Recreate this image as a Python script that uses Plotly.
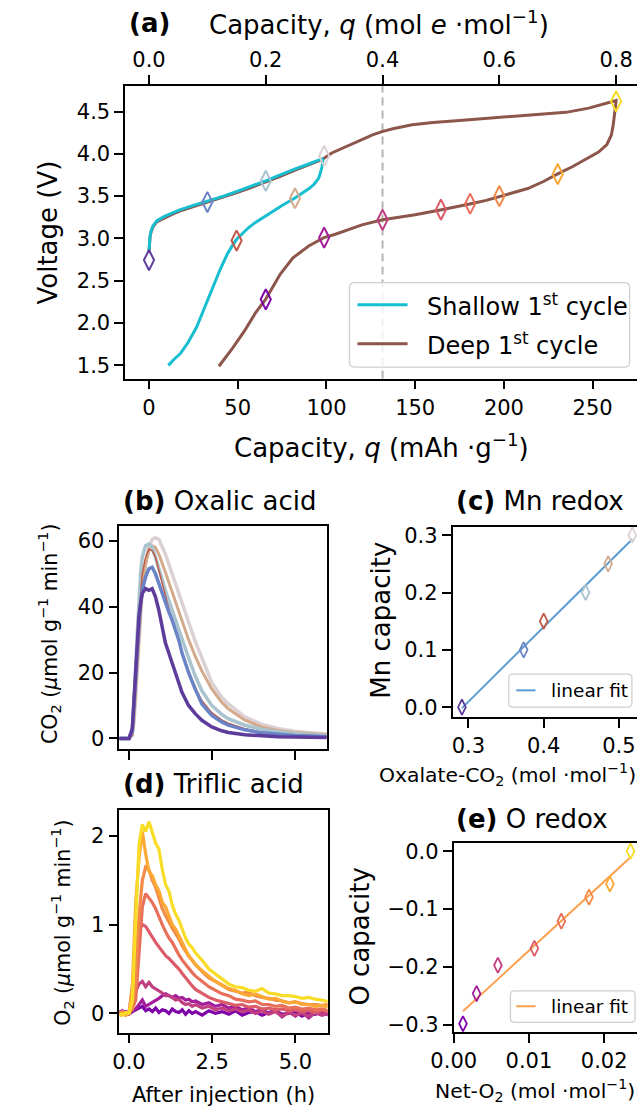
import numpy as np
import plotly.graph_objects as go

FONT = "DejaVu Sans"
W, H = 637, 1114

# ---------------- Panel (a): voltage profiles ----------------
CONV = 329.0  # mAh/g per (mol e / mol)

SH_CH_Q = [0, 0.1, 0.3, 0.6, 1.2, 2.3, 4.5, 8.7, 13, 17.7, 25, 33.1, 42, 50, 58, 65.7, 74, 82, 90, 97.4]
SH_CH_V = [2.85, 2.92, 2.98, 3.03, 3.09, 3.15, 3.21, 3.26, 3.30, 3.34, 3.39, 3.44, 3.50, 3.56, 3.62, 3.68, 3.75, 3.82, 3.88, 3.94]
SH_DIS_Q = [98, 97.5, 96.5, 95.6, 93, 90.2, 86, 82, 75, 66.6, 60, 55.7, 52, 49.4, 46.5, 44, 40, 35.8, 31, 26.8, 22, 17.7, 14, 10.9]
SH_DIS_V = [3.93, 3.85, 3.77, 3.71, 3.64, 3.59, 3.53, 3.475, 3.39, 3.28, 3.19, 3.12, 3.05, 2.99, 2.90, 2.81, 2.63, 2.42, 2.18, 1.95, 1.77, 1.64, 1.57, 1.50]

DP_CH_Q = [0, 0.1, 0.3, 0.6, 1.2, 2.3, 4.5, 8.7, 13, 17.7, 25, 33.1, 42, 50, 58, 65.7, 74, 82, 90, 97.4,
           103, 108.2, 112, 117.3, 122, 126.3, 131.8, 137.4, 148.3, 160, 175, 184.4, 200, 220.7, 235, 247.8, 256, 263.2]
DP_CH_V = [2.84, 2.91, 2.97, 3.02, 3.08, 3.14, 3.20, 3.245, 3.285, 3.325, 3.375, 3.425, 3.485, 3.545, 3.605, 3.665, 3.735, 3.805, 3.87, 3.93,
           4.01, 4.06, 4.095, 4.148, 4.19, 4.226, 4.265, 4.296, 4.343, 4.37, 4.395, 4.41, 4.43, 4.46, 4.49, 4.54, 4.585, 4.63]
DP_DIS_Q = [263.2, 262.8, 262.3, 261.5, 260.5, 258, 253.3, 246, 238.8, 230, 222, 213.4, 205, 198, 190, 181.4, 173, 164.9,
            150, 131.6, 120, 112, 105, 98.6, 90, 81.1, 74, 65.7, 60, 53.9, 47, 39.4]
DP_DIS_V = [4.62, 4.55, 4.45, 4.33, 4.22, 4.11, 4.02, 3.93, 3.85, 3.76, 3.67, 3.59, 3.54, 3.50, 3.45, 3.41, 3.37, 3.34,
            3.28, 3.22, 3.16, 3.10, 3.05, 3.01, 2.91, 2.77, 2.58, 2.28, 2.12, 1.91, 1.70, 1.49]

# sampling points (capacity in mol e/mol)
SH_PTS_Q = [0.0, 0.1, 0.15, 0.2, 0.25, 0.3]
SH_PTS_V = [2.744, 3.43, 2.975, 3.68, 3.475, 3.975]
SH_COLORS = ["#5d3c9c", "#6a84c6", "#c05a48", "#a9c3cf", "#d3aa8c", "#dcd1d2"]

DP_PTS_Q = [0.2, 0.3, 0.4, 0.5, 0.55, 0.6, 0.7, 0.8]
DP_PTS_V = [2.28, 3.01, 3.22, 3.34, 3.41, 3.50, 3.76, 4.62]
DP_COLORS = ["#7e03a8", "#a31e9a", "#c13f80", "#db5c68", "#e8705a", "#f48a47", "#fca835", "#f8dc25"]

# ---------------- Panel (b): CO2 (oxalic acid) ----------------
T_B = [-0.3, 0.0, 0.1, 0.15, 0.2, 0.25, 0.3, 0.35, 0.4, 0.5, 0.6, 0.7, 0.8, 0.9, 1.0, 1.1, 1.2, 1.3, 1.4, 1.5,
       1.6, 1.8, 2.0, 2.2, 2.5, 2.8, 3.0, 3.5, 4.0, 4.5, 5.0, 5.5, 6.0]
CO2_00 = [0, 0, 3, 12, 22, 31, 37, 41, 44, 45.5, 45, 45.5, 43, 39, 34, 29, 26, 23, 20, 17,
          14, 10, 7.5, 5.5, 3.5, 2.3, 1.8, 1.1, 0.7, 0.5, 0.4, 0.3, 0.3]
CO2_10 = [0, 0, 2, 9, 18, 27, 35, 41, 45, 49, 51.5, 52, 50, 47, 44, 41, 38.5, 36, 33, 30,
          26, 20, 15, 10.5, 7, 5, 4.0, 2.6, 1.7, 1.2, 0.9, 0.7, 0.5]
CO2_15 = [0, 0, 1, 7, 16, 26, 36, 44, 50, 55, 57.5, 57, 55, 51, 47, 43, 39.5, 36, 32.5, 29,
          26, 20.5, 15.5, 11.5, 7.8, 5.6, 4.6, 2.9, 1.9, 1.3, 1.0, 0.8, 0.6]
CO2_20 = [0, 0, 2, 10, 21, 32, 42, 50, 55, 58.5, 59, 58, 55, 51.5, 48, 45, 42, 39, 36, 33,
          30, 24.5, 19, 14.5, 10, 7.3, 6.0, 4.0, 2.8, 2.0, 1.5, 1.1, 0.8]
CO2_25 = [0, 0, 1, 6, 14, 23, 32, 40, 46, 53, 57, 58.5, 58, 56, 53.5, 50.5, 47.5, 44.5, 41.5, 38.5,
          35.5, 30, 25, 20.5, 15, 11, 9, 5.5, 3.5, 2.4, 1.8, 1.4, 1.1]
CO2_30 = [0, 0, 1, 5, 12, 21, 30, 38, 45, 53, 58, 60.5, 61, 60.5, 58.5, 56, 53, 50, 47, 44,
          41, 35, 29.5, 24.5, 17, 12.5, 10.5, 6.5, 4.3, 3.0, 2.2, 1.7, 1.3]

# ---------------- Panel (c): Mn redox ----------------
OX_CO2 = [0.2914, 0.3734, 0.400, 0.4557, 0.4857, 0.5177]
MN_CAP = [0.0, 0.1, 0.15, 0.2, 0.25, 0.3]

# ---------------- Panel (d): O2 (triflic acid) ----------------
T_D = [-0.3, -0.2, -0.1, 0.0, 0.1, 0.2, 0.3, 0.4, 0.5, 0.6, 0.7, 0.8, 0.9, 1.0, 1.1, 1.2, 1.3, 1.4, 1.5, 1.6,
       1.7, 1.8, 1.9, 2.0, 2.2, 2.4, 2.6, 2.8, 3.0, 3.2, 3.4, 3.6, 3.8, 4.0, 4.2, 4.4, 4.6, 4.8, 5.0, 5.2,
       5.4, 5.6, 5.8, 6.0]
O2_02 = [0.03, 0.00, 0.02, -0.01, 0.02, 0.04, 0.06, 0.08, 0.03, 0.05, 0.02, 0.06, 0.01, 0.04, 0.03, 0.00, 0.05, 0.02, 0.01, 0.04,
         -0.01, 0.03, 0.00, 0.02, -0.02, 0.03, 0.00, 0.02, -0.01, 0.03, -0.02, 0.01, 0.02, -0.02, 0.01, 0.03, -0.01, 0.00, 0.02, -0.03,
         0.01, -0.01, 0.02, -0.02]
O2_03 = [0.00, 0.03, -0.02, 0.01, 0.03, 0.05, 0.10, 0.15, 0.08, 0.10, 0.12, 0.15, 0.17, 0.20, 0.22, 0.20, 0.18, 0.20, 0.17, 0.18,
         0.15, 0.16, 0.13, 0.14, 0.10, 0.12, 0.08, 0.10, 0.06, 0.08, 0.04, 0.06, 0.02, 0.05, 0.00, 0.04, -0.04, 0.02, -0.03, 0.02,
         -0.05, 0.01, -0.02, 0.00]
O2_04 = [0.02, -0.01, 0.01, 0.00, 0.08, 0.25, 0.33, 0.36, 0.30, 0.35, 0.30, 0.28, 0.26, 0.23, 0.20, 0.20, 0.18, 0.15, 0.16, 0.12,
         0.10, 0.11, 0.08, 0.10, 0.06, 0.08, 0.04, 0.06, 0.03, 0.05, 0.02, 0.04, 0.00, 0.03, -0.01, 0.02, -0.03, 0.01, -0.02, 0.00,
         -0.03, 0.01, -0.02, 0.00]
O2_05 = [0.00, 0.01, -0.01, 0.00, 0.30, 0.75, 0.95, 1.00, 0.98, 0.92, 0.85, 0.80, 0.75, 0.70, 0.65, 0.62, 0.58, 0.55, 0.50, 0.45,
         0.40, 0.35, 0.31, 0.27, 0.22, 0.18, 0.15, 0.13, 0.11, 0.09, 0.10, 0.07, 0.08, 0.05, 0.06, 0.04, 0.05, 0.03, 0.04, 0.02,
         0.03, 0.01, 0.03, 0.02]
O2_055 = [0.01, -0.01, 0.00, 0.02, 0.05, 0.15, 0.70, 1.20, 1.35, 1.30, 1.25, 1.18, 1.08, 1.00, 0.92, 0.85, 0.80, 0.72, 0.66, 0.60,
          0.55, 0.50, 0.46, 0.42, 0.36, 0.30, 0.26, 0.22, 0.20, 0.16, 0.15, 0.13, 0.14, 0.10, 0.10, 0.08, 0.09, 0.06, 0.07, 0.05,
          0.06, 0.04, 0.05, 0.03]
O2_06 = [0.00, 0.02, -0.01, 0.00, 0.05, 0.40, 1.10, 1.50, 1.65, 1.62, 1.50, 1.42, 1.30, 1.18, 1.10, 1.02, 0.96, 0.90, 0.84, 0.76,
         0.70, 0.64, 0.60, 0.55, 0.47, 0.40, 0.36, 0.32, 0.27, 0.25, 0.23, 0.24, 0.20, 0.18, 0.17, 0.15, 0.14, 0.12, 0.13, 0.11,
         0.10, 0.10, 0.09, 0.10]
O2_07 = [-0.03, 0.00, -0.02, 0.00, 0.30, 1.25, 1.75, 2.05, 1.80, 1.60, 1.55, 1.45, 1.38, 1.25, 1.20, 1.10, 1.00, 0.95, 0.88, 0.80,
         0.72, 0.65, 0.60, 0.55, 0.48, 0.42, 0.36, 0.32, 0.28, 0.26, 0.22, 0.20, 0.22, 0.19, 0.16, 0.17, 0.14, 0.12, 0.13, 0.10,
         0.10, 0.08, 0.09, 0.07]
O2_08 = [0.00, -0.02, 0.01, 0.00, 0.15, 1.10, 1.90, 2.13, 2.05, 2.16, 2.05, 1.92, 1.85, 1.62, 1.45, 1.38, 1.22, 1.12, 1.05, 0.95,
         0.85, 0.78, 0.74, 0.68, 0.60, 0.50, 0.44, 0.38, 0.33, 0.30, 0.29, 0.26, 0.25, 0.28, 0.23, 0.22, 0.20, 0.20, 0.19, 0.17,
         0.18, 0.16, 0.15, 0.13]

# ---------------- Panel (e): O redox ----------------
NET_O2 = [0.00123, 0.00304, 0.00587, 0.01072, 0.0143, 0.01798, 0.02076, 0.0235]
O_CAP = [-0.298, -0.246, -0.197, -0.168, -0.121, -0.0795, -0.0566, 0.0]

# =====================================================================
def PX(p):
    return p / W


def PY(p):
    return 1 - p / H


fig = go.Figure()

# (a) curves
fig.add_trace(go.Scatter(x=DP_CH_Q + DP_DIS_Q, y=DP_CH_V + DP_DIS_V, mode="lines",
                         line=dict(color="#8c564b", width=3), xaxis="x", yaxis="y", showlegend=False))
fig.add_trace(go.Scatter(x=SH_CH_Q + SH_DIS_Q, y=SH_CH_V + SH_DIS_V, mode="lines",
                         line=dict(color="#17becf", width=3), xaxis="x", yaxis="y", showlegend=False))
fig.add_trace(go.Scatter(x=SH_PTS_Q, y=SH_PTS_V, mode="markers", xaxis="x2", yaxis="y", showlegend=False,
                         marker=dict(symbol="diamond-tall-open", size=14.5, color=SH_COLORS, line=dict(width=2))))
fig.add_trace(go.Scatter(x=DP_PTS_Q, y=DP_PTS_V, mode="markers", xaxis="x2", yaxis="y", showlegend=False,
                         marker=dict(symbol="diamond-tall-open", size=14.5, color=DP_COLORS, line=dict(width=2))))

# (b)
b_series = [(CO2_30, SH_COLORS[5], 3.5), (CO2_25, SH_COLORS[4], 3.0), (CO2_20, SH_COLORS[3], 3.5),
            (CO2_15, SH_COLORS[2], 1.5), (CO2_10, SH_COLORS[1], 3.5), (CO2_00, SH_COLORS[0], 3.5)]
for ys, c, w in b_series:
    fig.add_trace(go.Scatter(x=T_B, y=ys, mode="lines", line=dict(color=c, width=w),
                             xaxis="x3", yaxis="y3", showlegend=False))

# (c)
mn_fit = np.polyfit(OX_CO2, MN_CAP, 1)
fx_c = [min(OX_CO2), max(OX_CO2)]
fig.add_trace(go.Scatter(x=fx_c, y=list(np.polyval(mn_fit, fx_c)), mode="lines",
                         line=dict(color="#5b9bd0", width=2), xaxis="x4", yaxis="y4", showlegend=False))
fig.add_trace(go.Scatter(x=OX_CO2, y=MN_CAP, mode="markers", xaxis="x4", yaxis="y4", showlegend=False,
                         marker=dict(symbol="diamond-tall-open", size=11, color=SH_COLORS, line=dict(width=1.8))))

# (d)
d_series = [O2_02, O2_03, O2_04, O2_05, O2_055, O2_06, O2_07, O2_08]
for ys, c in zip(d_series, DP_COLORS):
    fig.add_trace(go.Scatter(x=T_D, y=ys, mode="lines", line=dict(color=c, width=3.2),
                             xaxis="x5", yaxis="y5", showlegend=False))

# (e)
o_fit = np.polyfit(NET_O2, O_CAP, 1)
fx_e = [min(NET_O2), max(NET_O2)]
fig.add_trace(go.Scatter(x=fx_e, y=list(np.polyval(o_fit, fx_e)), mode="lines",
                         line=dict(color="#fca04d", width=2), xaxis="x6", yaxis="y6", showlegend=False))
fig.add_trace(go.Scatter(x=NET_O2, y=O_CAP, mode="markers", xaxis="x6", yaxis="y6", showlegend=False,
                         marker=dict(symbol="diamond-tall-open", size=11, color=DP_COLORS, line=dict(width=1.8))))

# ---------------- axes ----------------
base = dict(showline=True, linecolor="black", linewidth=1.6, ticks="outside", ticklen=9, tickwidth=1.6,
            tickcolor="black", showgrid=False, zeroline=False,
            tickfont=dict(size=21, family=FONT, color="black"))

XA = [-13.42, 274.98]
fig.update_layout(
    xaxis=dict(base, domain=[PX(106), 1], range=XA, anchor="y", tickvals=[0, 50, 100, 150, 200, 250]),
    xaxis2=dict(base, overlaying="x", side="top", anchor="y", range=[XA[0] / CONV, XA[1] / CONV],
                tickvals=[0, 0.2, 0.4, 0.6, 0.8], tickformat=".1f"),
    yaxis=dict(base, domain=[PY(378.3), PY(83.3)], range=[1.344, 4.805], anchor="x",
               tickvals=[1.5, 2.0, 2.5, 3.0, 3.5, 4.0, 4.5], tickformat=".1f"),
    xaxis3=dict(base, domain=[PX(100), PX(315)], range=[-0.29, 5.97], anchor="y3", mirror=True,
                tickvals=[0, 2.5, 5.0], showticklabels=False),
    yaxis3=dict(base, domain=[PY(751.5), PY(526.7)], range=[-3.26, 64.55], anchor="x3", mirror=True,
                tickvals=[0, 20, 40, 60]),
    xaxis4=dict(base, domain=[PX(445.7), 1], range=[0.279, 0.524], anchor="y4", mirror=True,
                tickvals=[0.3, 0.4, 0.5], tickformat=".1f"),
    yaxis4=dict(base, domain=[PY(719), PY(527.7)], range=[-0.0168, 0.3144], anchor="x4",
                tickvals=[0.0, 0.1, 0.2, 0.3], tickformat=".1f"),
    xaxis5=dict(base, domain=[PX(100), PX(316)], range=[-0.29, 5.97], anchor="y5", mirror=True,
                tickvals=[0, 2.5, 5.0], tickformat=".1f"),
    yaxis5=dict(base, domain=[PY(1037), PY(813)], range=[-0.216, 2.291], anchor="x5", mirror=True,
                tickvals=[0, 1, 2]),
    xaxis6=dict(base, domain=[PX(446.7), 1], range=[-0.00002, 0.02436], anchor="y6", mirror=True,
                tickvals=[0, 0.01, 0.02], tickformat=".2f"),
    yaxis6=dict(base, domain=[PY(1036.7), PY(846)], range=[-0.3127, 0.0142], anchor="x6",
                tickvals=[0.0, -0.1, -0.2, -0.3], tickformat=".1f"),
)


# ---------------- shapes (dashed marker line, legends) ----------------
def rrect(x0, y0, x1, y1, r):
    def p(x, y):
        return f"{PX(x):.5f},{PY(y):.5f}"
    path = (f"M {p(x0 + r, y0)} L {p(x1 - r, y0)} Q {p(x1, y0)} {p(x1, y0 + r)} "
            f"L {p(x1, y1 - r)} Q {p(x1, y1)} {p(x1 - r, y1)} L {p(x0 + r, y1)} "
            f"Q {p(x0, y1)} {p(x0, y1 - r)} L {p(x0, y0 + r)} Q {p(x0, y0)} {p(x0 + r, y0)} Z")
    return dict(type="path", path=path, xref="paper", yref="paper",
                line=dict(color="#d0d0d0", width=1.3), fillcolor="rgba(255,255,255,0.8)", layer="above")


def seg(x0, x1, y, color, width):
    return dict(type="line", xref="paper", yref="paper", x0=PX(x0), x1=PX(x1), y0=PY(y), y1=PY(y),
                line=dict(color=color, width=width), layer="above")


shapes = [
    dict(type="line", xref="x2", yref="y domain", x0=0.4, x1=0.4, y0=0, y1=1,
         line=dict(color="#b5b5b5", width=2, dash="8px,5px"), layer="below"),
    rrect(338.7, 281.7, 629.3, 366.7, 5),
    seg(347, 399, 304, "#17becf", 3),
    seg(347, 399, 343.3, "#8c564b", 3),
    rrect(504, 676, 631.7, 709.3, 4),
    seg(511.7, 531.7, 692.3, "#5b9bd0", 2),
    rrect(505.7, 995, 635, 1026.7, 4),
    seg(511.7, 531.7, 1010.5, "#fca04d", 2),
]


def ann(text, px, py, size, xanchor="center", yanchor="middle", angle=0):
    return dict(text=text, x=PX(px), y=PY(py), xref="paper", yref="paper", xanchor=xanchor, yanchor=yanchor,
                showarrow=False, textangle=angle, font=dict(size=size, family=FONT, color="black"))


annotations = [
    ann("<b>(a)</b>", 107.7, 20, 26, xanchor="left"),
    ann("Capacity, <i>q</i> (mol <i>e</i> ·mol<sup>−1</sup>)", 191, 20, 26, xanchor="left"),
    ann("Capacity, <i>q</i> (mAh ·g<sup>−1</sup>)", 372.3, 446.7, 26),
    ann("Voltage (V)", 26.4, 230.7, 26, angle=-90),
    ann("Shallow 1<sup>st</sup> cycle", 417, 304, 24, xanchor="left"),
    ann("Deep 1<sup>st</sup> cycle", 417, 343.3, 24, xanchor="left"),
    ann("<b>(b)</b> Oxalic acid", 101.7, 501.7, 26, xanchor="left"),
    ann("CO<sub>2</sub> (<i>μ</i>mol g<sup>−1</sup> min<sup>−1</sup>)", 27.5, 636, 20.5, angle=-90),
    ann("<b>(c)</b> Mn redox", 446.7, 501.7, 26, xanchor="left"),
    ann("Mn capacity", 370.5, 622, 26, angle=-90),
    ann("Oxalate-CO<sub>2</sub> (mol ·mol<sup>−1</sup>)", 367, 776.7, 20.3, xanchor="left"),
    ann("linear fit", 546, 692.3, 18.5, xanchor="left"),
    ann("<b>(d)</b> Triflic acid", 101.7, 786.7, 26, xanchor="left"),
    ann("O<sub>2</sub> (<i>μ</i>mol g<sup>−1</sup> min<sup>−1</sup>)", 40.8, 926, 20.5, angle=-90),
    ann("After injection (h)", 207.5, 1100, 21),
    ann("<b>(e)</b> O redox", 446.7, 821.7, 26, xanchor="left"),
    ann("O capacity", 350, 940, 26, angle=-90),
    ann("Net-O<sub>2</sub> (mol ·mol<sup>−1</sup>)", 425, 1095, 20.3, xanchor="left"),
    ann("linear fit", 546, 1010.5, 18.5, xanchor="left"),
]

fig.update_layout(
    width=W, height=H, margin=dict(l=0, r=0, t=0, b=0),
    paper_bgcolor="white", plot_bgcolor="white",
    font=dict(family=FONT, color="black"),
    shapes=shapes, annotations=annotations, showlegend=False,
)

fig.write_html("out.html")
